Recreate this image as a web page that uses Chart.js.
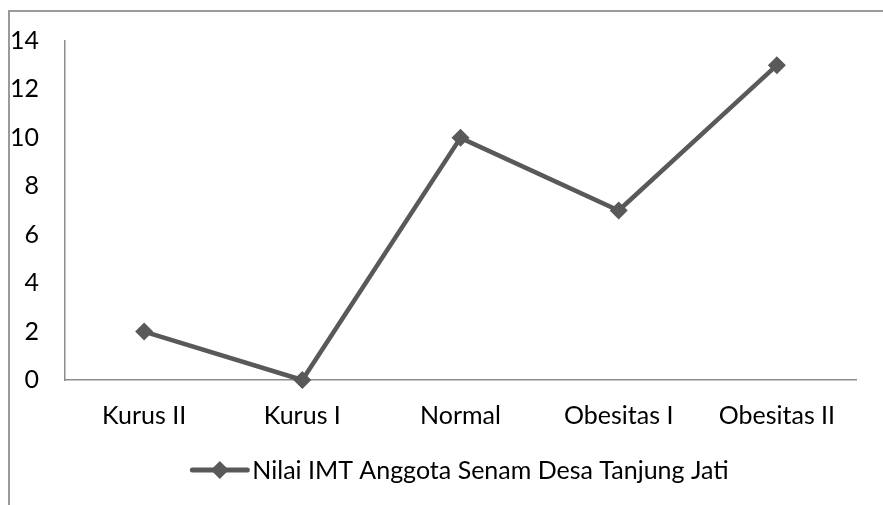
<!DOCTYPE html>
<html lang="id">
<head>
  <meta charset="UTF-8">
  <title>Nilai IMT Anggota Senam</title>
  <script src="https://cdn.jsdelivr.net/npm/chart.js"></script>
  <style>
    * { box-sizing: border-box; margin: 0; padding: 0; }
    body { background: #fff; width: 883px; height: 505px; overflow: hidden; position: relative; }
    .frame {
      position: absolute; left: 8px; top: 10px; width: 900px; height: 520px;
      border-top: 2px solid #9a9a9a; border-left: 2px solid #9a9a9a;
    }
    #chart { position: absolute; left: 0; top: 0; }
  </style>
</head>
<body>
  <div class="frame"></div>
  <canvas id="chart" width="883" height="505"></canvas>
  <script>
    const categories = ['Kurus II', 'Kurus I', 'Normal', 'Obesitas I', 'Obesitas II'];
    const imtValues = [2, 0, 10, 7, 13];
    const seriesName = 'Nilai IMT Anggota Senam Desa Tanjung Jati';

    const lineColor = '#595959';
    const axisColor = '#8c8c8c';
    const font = { family: 'Lato', size: 25 };

    // legend: short line with a diamond, then the series name
    const lineLegend = {
      id: 'lineLegend',
      afterDraw(chart) {
        const ctx = chart.ctx;
        const area = chart.chartArea;
        ctx.save();
        ctx.font = font.size + 'px ' + font.family;
        const textW = ctx.measureText(seriesName).width;
        const keyW = 55;
        const total = keyW + 5 + textW;
        const x0 = (area.left + area.right) / 2 - total / 2;
        const y = 470;
        ctx.strokeStyle = lineColor;
        ctx.lineWidth = 5;
        ctx.lineCap = 'round';
        ctx.beginPath();
        ctx.moveTo(x0, y);
        ctx.lineTo(x0 + keyW, y);
        ctx.stroke();
        ctx.fillStyle = lineColor;
        ctx.beginPath();
        const cx = x0 + keyW / 2, r = 9;
        ctx.moveTo(cx, y - r);
        ctx.lineTo(cx + r, y);
        ctx.lineTo(cx, y + r);
        ctx.lineTo(cx - r, y);
        ctx.closePath();
        ctx.fill();
        ctx.fillStyle = '#000';
        ctx.textBaseline = 'middle';
        ctx.fillText(seriesName, x0 + keyW + 5, y + 1);
        ctx.restore();
      }
    };

    new Chart(document.getElementById('chart'), {
      type: 'line',
      data: {
        labels: categories,
        datasets: [{
          label: seriesName,
          data: imtValues,
          borderColor: lineColor,
          backgroundColor: lineColor,
          borderWidth: 4.5,
          pointStyle: 'rectRot',
          pointRadius: 9,
          pointHoverRadius: 9,
          pointBorderWidth: 0,
          tension: 0,
          clip: false
        }]
      },
      options: {
        responsive: false,
        animation: false,
        layout: { padding: { top: 41, right: 27, bottom: 0, left: 0 } },
        plugins: { legend: { display: false }, tooltip: { enabled: false } },
        scales: {
          x: {
            offset: true,
            grid: { display: false, drawTicks: false },
            border: { display: true, color: axisColor, width: 1.5 },
            ticks: { color: '#000', font: font, padding: 21, maxRotation: 0 },
            afterFit(scale) { scale.height = 125; }
          },
          y: {
            min: 0,
            max: 14,
            ticks: { stepSize: 2, color: '#000', font: font, padding: 26 },
            grid: { display: false, drawTicks: false },
            border: { display: true, color: axisColor, width: 1.5 },
            afterFit(scale) { scale.width = 65; }
          }
        }
      },
      plugins: [lineLegend]
    });
  </script>
</body>
</html>
